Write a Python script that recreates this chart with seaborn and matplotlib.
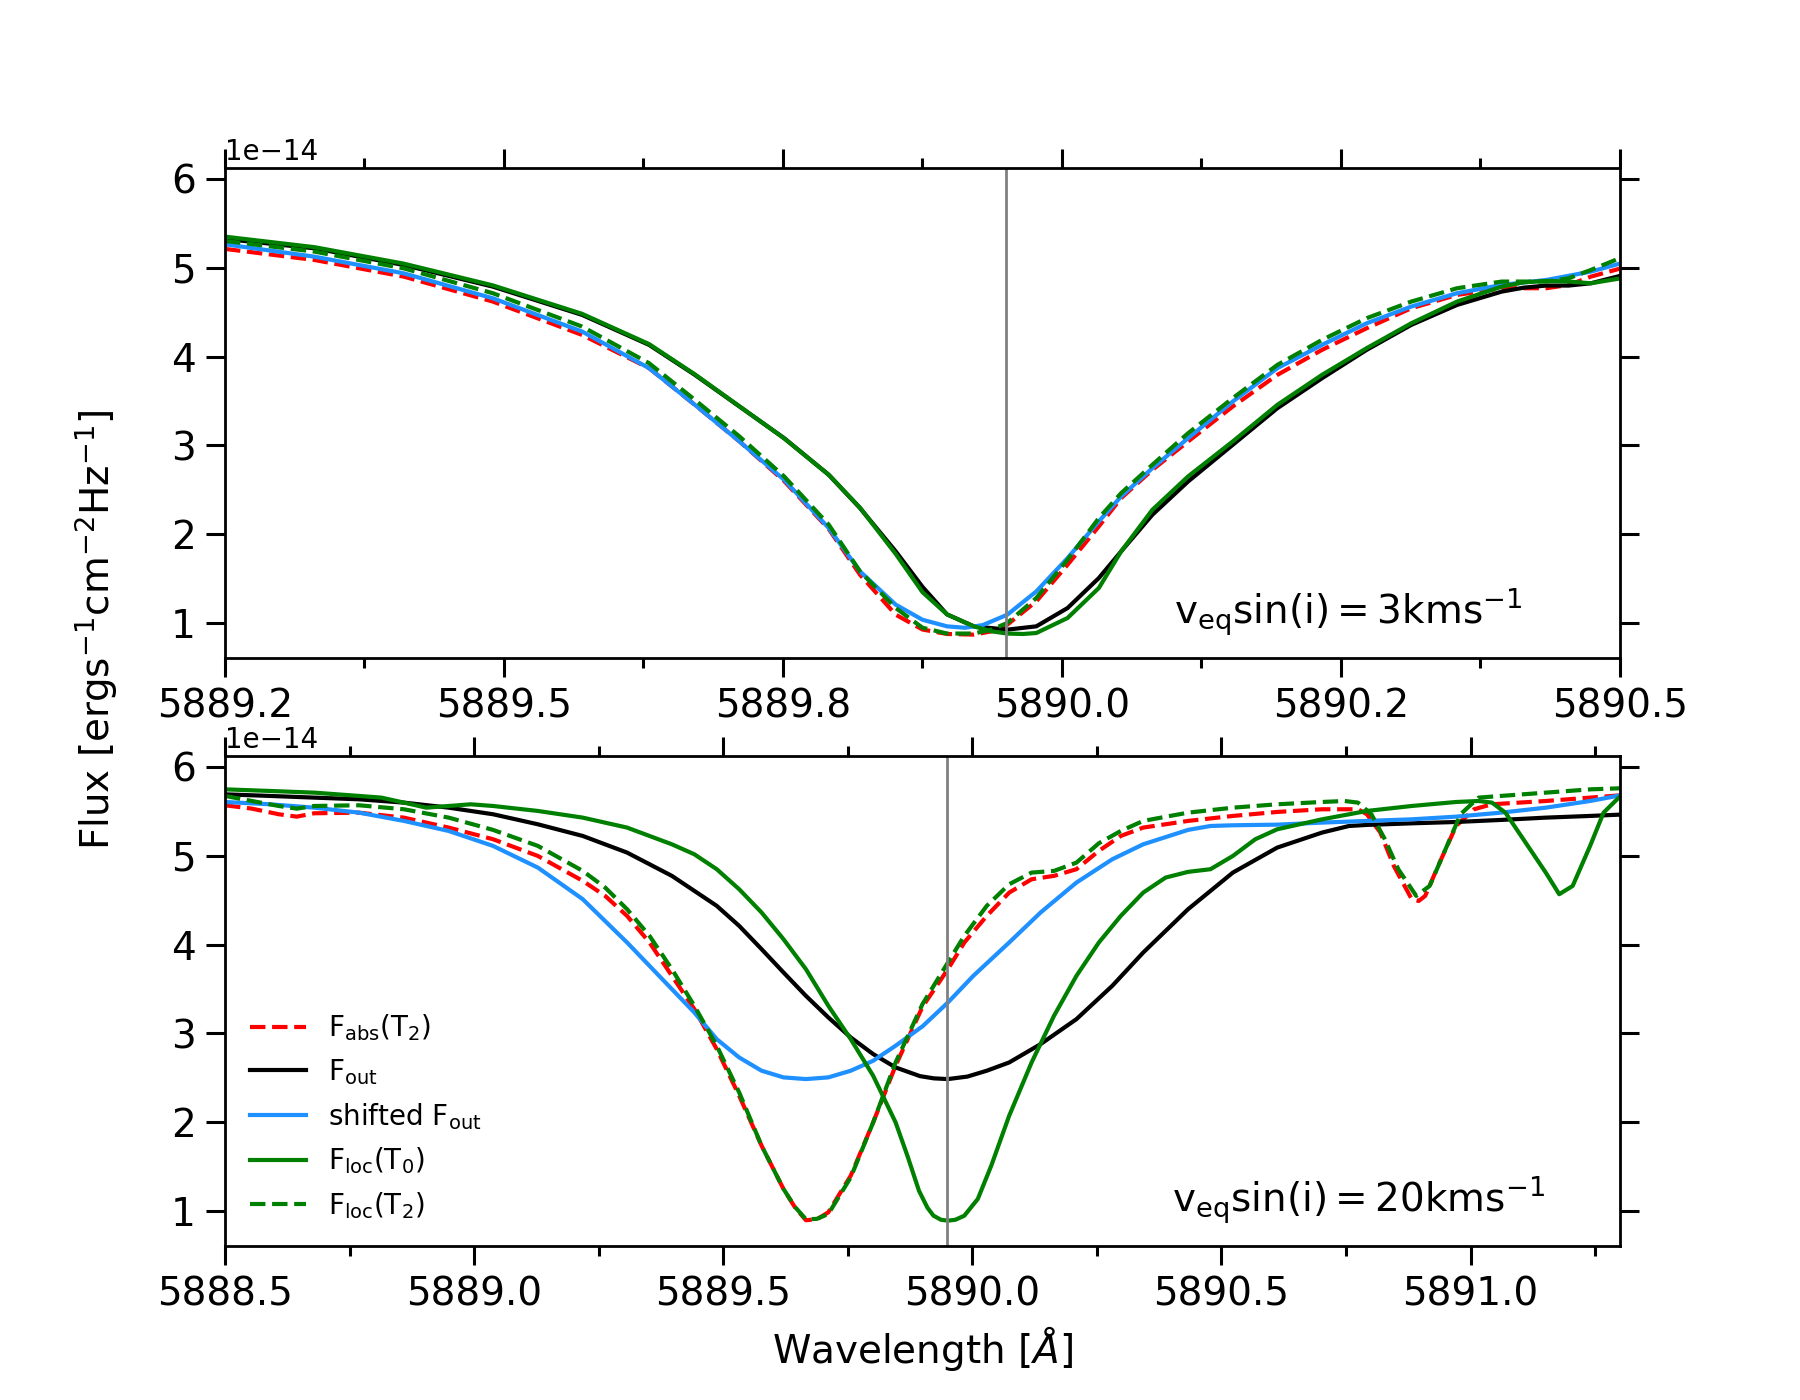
import numpy as np
import matplotlib
matplotlib.use("Agg")
import matplotlib.pyplot as plt
import seaborn as sns
from matplotlib.ticker import MultipleLocator, FormatStrFormatter

# flux values in units of 1e-14 erg s^-1 cm^-2 Hz^-1
line_centre = 5889.95

# ---- top panel: vsini = 3 km/s ----
top_wl_out = [5889.250, 5889.330, 5889.410, 5889.490, 5889.570, 5889.630, 5889.671, 5889.711,
              5889.751, 5889.791, 5889.819, 5889.851, 5889.875, 5889.897, 5889.921, 5889.951,
              5889.977, 5890.005, 5890.033, 5890.053, 5890.081, 5890.113, 5890.153, 5890.193,
              5890.233, 5890.273, 5890.313, 5890.354, 5890.394, 5890.414, 5890.434, 5890.454,
              5890.474, 5890.501]
top_f_out = [5.322, 5.217, 5.030, 4.786, 4.468, 4.131, 3.794, 3.438,
             3.082, 2.670, 2.296, 1.809, 1.410, 1.100, 0.966, 0.929,
             0.966, 1.172, 1.509, 1.809, 2.221, 2.595, 3.007, 3.419,
             3.756, 4.075, 4.356, 4.580, 4.730, 4.775, 4.798, 4.798,
             4.824, 4.910]

top_wl_loc0 = [5889.250, 5889.330, 5889.410, 5889.490, 5889.570, 5889.630, 5889.671, 5889.711,
               5889.751, 5889.791, 5889.819, 5889.851, 5889.875, 5889.897, 5889.921, 5889.937,
               5889.951, 5889.965, 5889.977, 5890.005, 5890.033, 5890.053, 5890.081, 5890.113,
               5890.153, 5890.193, 5890.233, 5890.273, 5890.313, 5890.354, 5890.394, 5890.414,
               5890.434, 5890.454, 5890.474, 5890.501]
top_f_loc0 = [5.348, 5.230, 5.045, 4.800, 4.480, 4.140, 3.800, 3.440,
              3.080, 2.670, 2.300, 1.780, 1.350, 1.100, 0.966, 0.910,
              0.885, 0.880, 0.891, 1.060, 1.397, 1.809, 2.277, 2.652,
              3.045, 3.457, 3.794, 4.094, 4.374, 4.618, 4.786, 4.835,
              4.850, 4.843, 4.824, 4.880]

top_wl_shift = [5889.250, 5889.330, 5889.410, 5889.490, 5889.570, 5889.630, 5889.671, 5889.711,
                5889.751, 5889.791, 5889.819, 5889.851, 5889.875, 5889.897, 5889.913, 5889.929,
                5889.951, 5889.977, 5890.005, 5890.033, 5890.053, 5890.081, 5890.113, 5890.153,
                5890.193, 5890.233, 5890.273, 5890.313, 5890.354, 5890.394, 5890.434, 5890.474,
                5890.501]
top_f_shift = [5.262, 5.123, 4.936, 4.655, 4.281, 3.869, 3.457, 3.045,
               2.614, 2.071, 1.584, 1.210, 1.040, 0.966, 0.950, 0.980,
               1.097, 1.359, 1.734, 2.146, 2.427, 2.745, 3.082, 3.494,
               3.869, 4.131, 4.374, 4.562, 4.712, 4.805, 4.861, 4.955,
               5.049]

top_wl_abs2 = [5889.250, 5889.330, 5889.410, 5889.490, 5889.570, 5889.630, 5889.671, 5889.711,
               5889.751, 5889.791, 5889.819, 5889.851, 5889.875, 5889.897, 5889.921, 5889.937,
               5889.951, 5889.977, 5890.005, 5890.033, 5890.053, 5890.081, 5890.113, 5890.153,
               5890.193, 5890.233, 5890.273, 5890.313, 5890.354, 5890.394, 5890.434, 5890.454,
               5890.474, 5890.501]
top_f_abs2 = [5.210, 5.086, 4.899, 4.618, 4.243, 3.869, 3.457, 3.045,
              2.600, 2.060, 1.547, 1.097, 0.930, 0.880, 0.873, 0.910,
              0.985, 1.247, 1.659, 2.090, 2.408, 2.726, 3.045, 3.438,
              3.794, 4.075, 4.318, 4.543, 4.693, 4.768, 4.768, 4.805,
              4.899, 4.992]

top_wl_loc2 = [5889.250, 5889.330, 5889.410, 5889.490, 5889.570, 5889.630, 5889.671, 5889.711,
               5889.751, 5889.791, 5889.819, 5889.851, 5889.875, 5889.897, 5889.921, 5889.937,
               5889.951, 5889.977, 5890.005, 5890.033, 5890.053, 5890.081, 5890.113, 5890.153,
               5890.193, 5890.233, 5890.273, 5890.313, 5890.354, 5890.394, 5890.434, 5890.454,
               5890.474, 5890.501]
top_f_loc2 = [5.300, 5.180, 4.992, 4.712, 4.337, 3.925, 3.513, 3.101,
              2.652, 2.109, 1.584, 1.172, 0.950, 0.885, 0.885, 0.930,
              1.004, 1.285, 1.715, 2.183, 2.464, 2.783, 3.138, 3.532,
              3.906, 4.187, 4.431, 4.618, 4.768, 4.843, 4.843, 4.880,
              4.974, 5.112]

# ---- bottom panel: vsini = 20 km/s ----
bot_wl_out = [5888.500, 5888.590, 5888.679, 5888.769, 5888.859, 5888.949, 5889.038, 5889.128,
              5889.218, 5889.307, 5889.397, 5889.487, 5889.532, 5889.577, 5889.621, 5889.666,
              5889.711, 5889.756, 5889.801, 5889.846, 5889.895, 5889.923, 5889.951, 5889.990,
              5890.029, 5890.074, 5890.137, 5890.209, 5890.281, 5890.343, 5890.433, 5890.523,
              5890.612, 5890.702, 5890.756, 5890.792, 5890.882, 5890.971, 5891.061, 5891.151,
              5891.240, 5891.301]
bot_f_out = [5.689, 5.671, 5.652, 5.633, 5.596, 5.539, 5.465, 5.352,
             5.221, 5.034, 4.772, 4.435, 4.210, 3.948, 3.686, 3.423,
             3.180, 2.955, 2.768, 2.618, 2.520, 2.495, 2.487, 2.515,
             2.581, 2.674, 2.880, 3.161, 3.536, 3.910, 4.397, 4.809,
             5.090, 5.259, 5.333, 5.345, 5.363, 5.378, 5.401, 5.427,
             5.446, 5.461]

bot_wl_loc0 = [5888.500, 5888.590, 5888.679, 5888.769, 5888.814, 5888.859, 5888.904, 5888.949,
               5888.993, 5889.038, 5889.128, 5889.218, 5889.307, 5889.397, 5889.442, 5889.487,
               5889.532, 5889.577, 5889.621, 5889.666, 5889.711, 5889.756, 5889.801, 5889.846,
               5889.870, 5889.893, 5889.910, 5889.922, 5889.937, 5889.951, 5889.966, 5889.984,
               5890.011, 5890.038, 5890.074, 5890.119, 5890.164, 5890.209, 5890.254, 5890.298,
               5890.343, 5890.388, 5890.433, 5890.478, 5890.523, 5890.568, 5890.612, 5890.702,
               5890.792, 5890.882, 5890.971, 5891.016, 5891.043, 5891.070, 5891.106, 5891.151,
               5891.178, 5891.205, 5891.240, 5891.267, 5891.301]
bot_f_loc0 = [5.745, 5.727, 5.708, 5.671, 5.652, 5.596, 5.539, 5.558,
              5.577, 5.558, 5.502, 5.427, 5.315, 5.127, 5.015, 4.847,
              4.622, 4.360, 4.060, 3.723, 3.311, 2.936, 2.524, 2.000,
              1.620, 1.230, 1.040, 0.951, 0.905, 0.895, 0.905, 0.951,
              1.139, 1.513, 2.075, 2.674, 3.199, 3.648, 4.023, 4.322,
              4.584, 4.753, 4.817, 4.847, 4.996, 5.184, 5.296, 5.408,
              5.502, 5.558, 5.603, 5.614, 5.596, 5.483, 5.184, 4.809,
              4.566, 4.659, 5.109, 5.483, 5.671]

bot_wl_shift = [5888.500, 5888.590, 5888.679, 5888.769, 5888.859, 5888.949, 5889.038, 5889.128,
                5889.218, 5889.307, 5889.397, 5889.442, 5889.487, 5889.532, 5889.577, 5889.621,
                5889.666, 5889.711, 5889.756, 5889.801, 5889.846, 5889.900, 5889.951, 5890.002,
                5890.074, 5890.137, 5890.209, 5890.281, 5890.343, 5890.433, 5890.478, 5890.523,
                5890.612, 5890.702, 5890.792, 5890.882, 5890.971, 5891.061, 5891.151, 5891.240,
                5891.301]
bot_f_shift = [5.603, 5.577, 5.539, 5.483, 5.390, 5.277, 5.109, 4.865,
               4.510, 4.023, 3.498, 3.236, 2.936, 2.730, 2.581, 2.506,
               2.487, 2.506, 2.581, 2.693, 2.862, 3.080, 3.348, 3.648,
               4.023, 4.360, 4.697, 4.959, 5.127, 5.289, 5.333, 5.341,
               5.348, 5.371, 5.390, 5.408, 5.438, 5.483, 5.539, 5.614,
               5.678]

bot_wl_abs2 = [5888.500, 5888.554, 5888.608, 5888.644, 5888.679, 5888.769, 5888.859, 5888.949,
               5889.038, 5889.128, 5889.218, 5889.263, 5889.307, 5889.352, 5889.397, 5889.442,
               5889.487, 5889.532, 5889.577, 5889.621, 5889.644, 5889.666, 5889.688, 5889.711,
               5889.756, 5889.801, 5889.846, 5889.900, 5889.951, 5889.984, 5890.029, 5890.074,
               5890.119, 5890.164, 5890.209, 5890.254, 5890.298, 5890.343, 5890.433, 5890.523,
               5890.612, 5890.702, 5890.774, 5890.792, 5890.819, 5890.846, 5890.882, 5890.896,
               5890.909, 5890.935, 5890.971, 5891.007, 5891.043, 5891.151, 5891.240, 5891.301]
bot_f_abs2 = [5.566, 5.528, 5.465, 5.438, 5.476, 5.483, 5.427, 5.315,
              5.184, 4.996, 4.716, 4.547, 4.322, 4.023, 3.648, 3.274,
              2.824, 2.300, 1.738, 1.251, 1.045, 0.900, 0.910, 0.989,
              1.401, 2.000, 2.637, 3.300, 3.723, 4.023, 4.322, 4.584,
              4.734, 4.772, 4.847, 5.053, 5.221, 5.315, 5.390, 5.446,
              5.491, 5.521, 5.521, 5.465, 5.259, 4.884, 4.510, 4.490,
              4.547, 4.884, 5.333, 5.521, 5.577, 5.614, 5.652, 5.678]

bot_wl_loc2 = [5888.500, 5888.554, 5888.608, 5888.644, 5888.679, 5888.769, 5888.859, 5888.949,
               5889.038, 5889.128, 5889.218, 5889.263, 5889.307, 5889.352, 5889.397, 5889.442,
               5889.487, 5889.532, 5889.577, 5889.621, 5889.644, 5889.666, 5889.688, 5889.711,
               5889.756, 5889.801, 5889.846, 5889.900, 5889.951, 5889.984, 5890.029, 5890.074,
               5890.119, 5890.164, 5890.209, 5890.254, 5890.298, 5890.343, 5890.433, 5890.523,
               5890.612, 5890.702, 5890.747, 5890.774, 5890.801, 5890.828, 5890.855, 5890.891,
               5890.918, 5890.944, 5890.980, 5891.016, 5891.061, 5891.151, 5891.240, 5891.301]
bot_f_loc2 = [5.671, 5.614, 5.558, 5.528, 5.558, 5.566, 5.521, 5.427,
              5.289, 5.109, 4.828, 4.641, 4.397, 4.098, 3.723, 3.311,
              2.862, 2.337, 1.738, 1.251, 1.050, 0.910, 0.915, 0.970,
              1.382, 2.000, 2.674, 3.330, 3.798, 4.098, 4.435, 4.678,
              4.809, 4.828, 4.921, 5.139, 5.277, 5.390, 5.483, 5.539,
              5.577, 5.603, 5.614, 5.596, 5.465, 5.184, 4.847, 4.547,
              4.659, 4.996, 5.465, 5.652, 5.671, 5.708, 5.745, 5.757]

labels = [r'$\mathrm{F_{abs}(T_2)}$', r'$\mathrm{F_{out}}$', r'shifted $\mathrm{F_{out}}$',
          r'$\mathrm{F_{loc}(T_0)}$', r'$\mathrm{F_{loc}(T_2)}$']
vsini_text = [r'$\mathrm{v_{eq}sin(i) = 3kms^{-1}}$', r'$\mathrm{v_{eq}sin(i) = 20kms^{-1}}$']

scale = 1e-14

fig, (ax1, ax2) = plt.subplots(2, 1, figsize=(9, 7), dpi=200)


def draw(ax, curves, major, lims):
    styles = [('red', '--'), ('black', '-'), ('dodgerblue', '-'), ('green', '-'), ('green', '--')]
    for (wl, fl), (col, ls), lab in zip(curves, styles, labels):
        sns.lineplot(x=np.array(wl), y=np.array(fl) * scale, ax=ax, color=col,
                     linestyle=ls, linewidth=1.5, label=lab, estimator=None, sort=False)
    ax.axvline(line_centre, color='grey', lw=1)
    ax.set_xlim(*lims)
    ax.set_ylim(0.61 * scale, 6.12 * scale)
    ax.set_ylabel('')
    ax.xaxis.set_major_locator(MultipleLocator(major))
    ax.xaxis.set_minor_locator(MultipleLocator(major / 2))
    ax.xaxis.set_major_formatter(FormatStrFormatter('%.1f'))
    ax.tick_params(which='both', direction='out', top=True, right=True, labelsize=14, width=1.1)
    ax.tick_params(which='major', length=7)
    ax.tick_params(which='minor', length=3.5)
    for sp in ax.spines.values():
        sp.set_linewidth(1.0)


draw(ax1, [(top_wl_abs2, top_f_abs2), (top_wl_out, top_f_out), (top_wl_shift, top_f_shift),
           (top_wl_loc0, top_f_loc0), (top_wl_loc2, top_f_loc2)], 0.25, (5889.25, 5890.5))
ax1.get_legend().remove()
ax1.text(5890.1, 1 * scale, vsini_text[0], fontsize=14)

draw(ax2, [(bot_wl_abs2, bot_f_abs2), (bot_wl_out, bot_f_out), (bot_wl_shift, bot_f_shift),
           (bot_wl_loc0, bot_f_loc0), (bot_wl_loc2, bot_f_loc2)], 0.5, (5888.5, 5891.3))
ax2.legend(loc='lower left', frameon=False, fontsize=10)
ax2.text(5890.4, 1 * scale, vsini_text[1], fontsize=14)
ax2.set_xlabel(r'Wavelength [$\AA$]', fontsize=14)

fig.text(0.04, 0.55, r'Flux [ergs$^{-1}$cm$^{-2}$Hz$^{-1}$]', rotation='vertical',
         va='center', fontsize=14)

fig.savefig('out.png', dpi=200)
